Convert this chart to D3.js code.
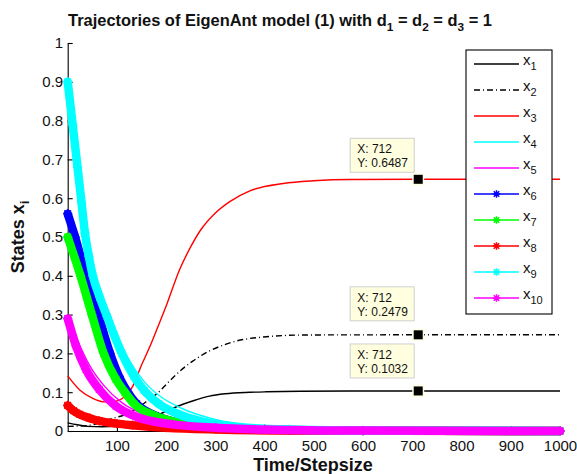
<!DOCTYPE html>
<html>
<head>
<meta charset="utf-8">
<script src="https://cdn.jsdelivr.net/npm/d3@7"></script>
<style>
  html, body { margin: 0; padding: 0; background: #fff; }
  svg { display: block; font-family: "Liberation Sans", Arial, Helvetica, sans-serif; }
</style>
</head>
<body>
<svg id="chart" width="577" height="474"></svg>
<script>
// data: [time step, state]
var x1 = [[0,0.021],[20,0.016],[40,0.012],[70,0.011],[100,0.012],[130,0.017],[160,0.03],[193,0.047],[234,0.069],[260,0.08],[288,0.09],[320,0.096],[370,0.0997],[403,0.101],[472,0.1025],[574,0.1031],[712,0.1032],[1000,0.1032]];
var x2 = [[0,0.012],[40,0.014],[85,0.03],[130,0.05],[162,0.078],[188,0.104],[200,0.12],[235,0.162],[254,0.18],[289,0.207],[322,0.224],[343,0.232],[404,0.243],[472,0.2472],[574,0.2478],[712,0.2479],[1000,0.2479]];
var x3 = [[0,0.142],[25,0.105],[50,0.085],[75,0.075],[95,0.076],[110,0.083],[132,0.115],[150,0.17],[166,0.215],[183,0.268],[200,0.322],[227,0.415],[250,0.475],[270,0.518],[300,0.562],[330,0.592],[370,0.619],[438,0.638],[500,0.645],[574,0.6482],[712,0.6487],[1000,0.6487]];
var x4 = [[0,0.88],[10,0.775],[20,0.665],[28,0.58],[35,0.515],[51,0.41],[80,0.305],[110,0.218],[135,0.162],[155,0.128],[185,0.092],[232,0.058],[290,0.033],[350,0.018],[450,0.007],[600,0.002],[1000,0.0005]];
var x5 = [[0,0.3],[20,0.234],[45,0.168],[75,0.115],[110,0.073],[160,0.04],[230,0.019],[320,0.008],[450,0.003],[1000,0]];
var x6 = [[0,0.56],[15,0.5],[37,0.4],[62,0.3],[86,0.2],[107,0.133],[122,0.1],[140,0.07],[178,0.04],[230,0.02],[300,0.01],[400,0.004],[600,0.001],[1000,0]];
var x7 = [[0,0.5],[26,0.4],[49,0.3],[73,0.2],[98,0.133],[116,0.1],[135,0.07],[175,0.04],[230,0.02],[300,0.01],[400,0.004],[600,0.001],[1000,0]];
var x8 = [[0,0.066],[12,0.052],[24,0.043],[45,0.033],[64,0.026],[100,0.019],[132,0.015],[200,0.0085],[301,0.004],[450,0.0015],[1000,0]];
var x9 = [[0,0.9],[10,0.79],[20,0.68],[28,0.59],[35,0.51],[43,0.45],[51,0.4],[65,0.345],[80,0.295],[95,0.245],[110,0.2],[135,0.14],[155,0.105],[185,0.07],[232,0.04],[290,0.02],[350,0.01],[450,0.004],[600,0.0015],[1000,0]];
var x10 = [[0,0.29],[17,0.219],[37,0.159],[64,0.107],[98,0.064],[145,0.034],[213,0.017],[301,0.0085],[400,0.004],[600,0.001],[1000,0]];

var seriesNames = ['1','2','3','4','5','6','7','8','9','10'];
var xTicks = [100,200,300,400,500,600,700,800,900,1000];
var xTickLabels = ['100','200','300','400','500','600','700','800','900','1000'];
var yTicks = [0,0.1,0.2,0.3,0.4,0.5,0.6,0.7,0.8,0.9,1];
var yTickLabels = ['0','0.1','0.2','0.3','0.4','0.5','0.6','0.7','0.8','0.9','1'];
var tipX = [712, 712, 712];
var tipY = [0.6487, 0.2479, 0.1032];

// styles, one per series
var STYLES = [
  { color: '#000000', dash: null,      star: false },
  { color: '#000000', dash: '6,3,1,3', star: false },
  { color: '#ff0000', dash: null,      star: false },
  { color: '#00ffff', dash: null,      star: false },
  { color: '#ff00ff', dash: null,      star: false },
  { color: '#0000ff', dash: null,      star: true },
  { color: '#00ff00', dash: null,      star: true },
  { color: '#ff0000', dash: null,      star: true },
  { color: '#00ffff', dash: null,      star: true },
  { color: '#ff00ff', dash: null,      star: true }
];
var allSeries = [x1, x2, x3, x4, x5, x6, x7, x8, x9, x10];
var tipGap = [7, 14, 13];

var svg = d3.select('#chart');
var x = d3.scaleLinear().domain([0, 1000]).range([67.7, 560]);
var y = d3.scaleLinear().domain([0, 1]).range([431, 43]);

function starPath(r) {
  var a = r * 0.72;
  return 'M' + (-r) + ',0L' + r + ',0M0,' + (-r) + 'L0,' + r +
         'M' + (-a) + ',' + (-a) + 'L' + a + ',' + a + 'M' + (-a) + ',' + a + 'L' + a + ',' + (-a);
}

// axes (drawn under the data, like MATLAB)
var yAxis = d3.axisLeft(y).tickValues(yTicks).tickFormat(function(d, i) { return yTickLabels[i]; })
  .tickSizeInner(-5).tickSizeOuter(0).tickPadding(4.5);
var xAxis = d3.axisBottom(x).tickValues(xTicks).tickFormat(function(d, i) { return xTickLabels[i]; })
  .tickSizeInner(-5).tickSizeOuter(0).tickPadding(9);

var gy = svg.append('g').attr('transform', 'translate(67.7,0)').call(yAxis);
var gx = svg.append('g').attr('transform', 'translate(0,431)').call(xAxis);
[gx, gy].forEach(function(g) {
  g.selectAll('path, line').attr('stroke', '#000').attr('stroke-width', 1.1);
  g.selectAll('text').attr('fill', '#111').style('font-size', '15px').style('font-family', 'inherit');
});

var line = d3.line().x(function(d) { return x(d[0]); }).y(function(d) { return y(d[1]); })
  .curve(d3.curveMonotoneX);

allSeries.forEach(function(data, i) {
  var st = STYLES[i];
  var g = svg.append('g');
  if (st.star) {
    g.append('path').attr('d', line(data)).attr('fill', 'none')
      .attr('stroke', st.color).attr('stroke-width', 8.5)
      .attr('stroke-linejoin', 'round').attr('stroke-linecap', 'round');
    g.selectAll('path.star').data(data).enter().append('path').attr('class', 'star')
      .attr('d', starPath(4.6))
      .attr('transform', function(d) { return 'translate(' + x(d[0]) + ',' + y(d[1]) + ')'; })
      .attr('stroke', st.color).attr('stroke-width', 1.3).attr('fill', 'none');
  } else {
    g.append('path').attr('d', line(data)).attr('fill', 'none')
      .attr('stroke', st.color).attr('stroke-width', 1.4)
      .attr('stroke-dasharray', st.dash);
  }
});

// legend
var leg = svg.append('g');
leg.append('rect').attr('x', 466).attr('y', 50).attr('width', 86).attr('height', 264)
  .attr('fill', '#fff').attr('stroke', '#000').attr('stroke-width', 1.1);
seriesNames.forEach(function(name, i) {
  var st = STYLES[i];
  var ly = 64 + i * 26;
  leg.append('line').attr('x1', 474).attr('x2', 519).attr('y1', ly).attr('y2', ly)
    .attr('stroke', st.color).attr('stroke-width', 1.4).attr('stroke-dasharray', st.dash);
  if (st.star) {
    leg.append('path').attr('d', starPath(3.8)).attr('transform', 'translate(496.5,' + ly + ')')
      .attr('stroke', st.color).attr('stroke-width', 1.5).attr('fill', 'none');
  }
  var t = leg.append('text').attr('x', 523).attr('y', ly + 1).style('font-size', '15px').attr('fill', '#111');
  t.append('tspan').text('x');
  t.append('tspan').attr('dy', 5).style('font-size', '11px').text(name);
});

// data tips
tipX.forEach(function(tx, i) {
  var mx = x(tx), my = y(tipY[i]);
  var bw = 64, bh = 34;
  var bx = mx - 4.5 - bw + 0.5, by = my - tipGap[i] - bh;
  var g = svg.append('g');
  g.append('rect').attr('x', bx).attr('y', by).attr('width', bw).attr('height', bh)
    .attr('fill', '#ffffe0').attr('stroke', '#cfcfcf').attr('stroke-width', 1);
  g.append('text').attr('x', bx + 7).attr('y', by + 15).style('font-size', '12px').attr('fill', '#111')
    .text('X: ' + tx);
  g.append('text').attr('x', bx + 7).attr('y', by + 29).style('font-size', '12px').attr('fill', '#111')
    .text('Y: ' + tipY[i]);
  g.append('rect').attr('x', mx - 6).attr('y', my - 6).attr('width', 12).attr('height', 12)
    .attr('fill', '#ffffe0');
  g.append('rect').attr('x', mx - 4.5).attr('y', my - 4.5).attr('width', 9).attr('height', 9)
    .attr('fill', '#000');
});

// title and axis labels
var title = svg.append('text').attr('x', 68).attr('y', 26).style('font-size', '18px')
  .style('font-weight', 'bold').attr('fill', '#111');
title.append('tspan').text('Trajectories of EigenAnt model (1) with d');
[['1', ' = d'], ['2', ' = d'], ['3', ' = 1']].forEach(function(p) {
  title.append('tspan').attr('dy', 5).attr('class', 'sub').text(p[0]);
  title.append('tspan').attr('dy', -5).text(p[1]);
});
// shrink the title so it spans 68..500 like the original
var fs = 18 * 432 / title.node().getComputedTextLength();
title.style('font-size', fs + 'px');
title.selectAll('tspan.sub').style('font-size', (fs * 0.72) + 'px');

svg.append('text').attr('x', 313).attr('y', 471).attr('text-anchor', 'middle')
  .style('font-size', '18px').style('font-weight', 'bold').attr('fill', '#111').text('Time/Stepsize');

var yl = svg.append('text').attr('transform', 'translate(24,237) rotate(-90)').attr('text-anchor', 'middle')
  .style('font-size', '18px').style('font-weight', 'bold').attr('fill', '#111');
yl.append('tspan').text('States x');
yl.append('tspan').attr('dy', 5).style('font-size', '13px').text('i');
</script>
</body>
</html>
